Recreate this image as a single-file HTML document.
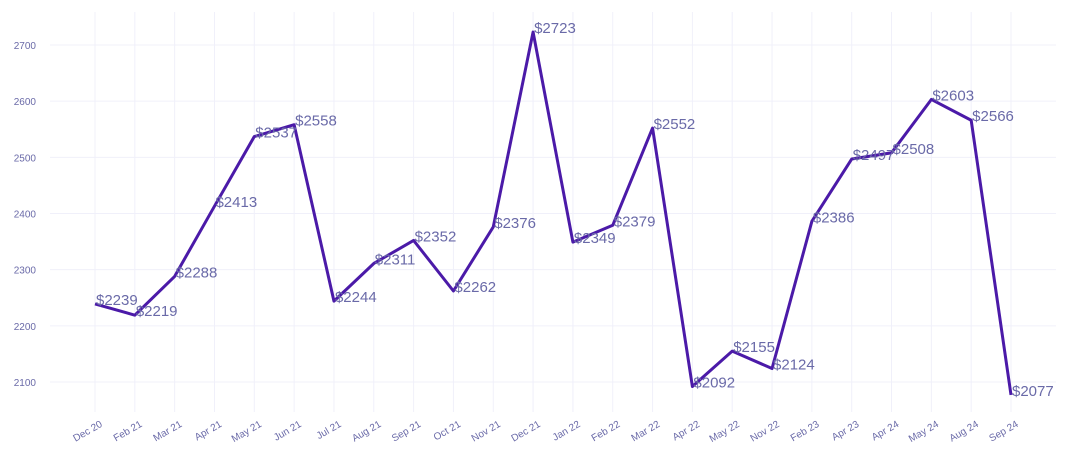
<!DOCTYPE html>
<html><head><meta charset="utf-8"><style>
html,body{margin:0;padding:0;background:#fff;}
svg text{font-family:"Liberation Sans",sans-serif;}
</style></head><body>
<svg id="chart" width="1070" height="465" xmlns="http://www.w3.org/2000/svg">
<g id="grid"></g>
<g id="yaxis"></g>
<g id="xaxis"></g>
<g id="series"></g>
</svg>
<script>
const categories=["Dec 20","Feb 21","Mar 21","Apr 21","May 21","Jun 21","Jul 21","Aug 21","Sep 21","Oct 21","Nov 21","Dec 21","Jan 22","Feb 22","Mar 22","Apr 22","May 22","Nov 22","Feb 23","Apr 23","Apr 24","May 24","Aug 24","Sep 24"];
const values=[2239,2219,2288,2413,2537,2558,2244,2311,2352,2262,2376,2723,2349,2379,2552,2092,2155,2124,2386,2497,2508,2603,2566,2077];
const yTicks=[2100,2200,2300,2400,2500,2600,2700];
const NS="http://www.w3.org/2000/svg";
const x0=95,x1=1011,yBase=382,yPer=0.5617;
function xs(i){return x0+i*(x1-x0)/(categories.length-1);}
function ys(v){return yBase-(v-2100)*yPer;}
function mk(t,a,p){const e=document.createElementNS(NS,t);for(const k in a)e.setAttribute(k,a[k]);p.appendChild(e);return e;}
const grid=document.getElementById('grid'),ya=document.getElementById('yaxis'),xa=document.getElementById('xaxis'),se=document.getElementById('series');
yTicks.forEach(v=>{
  const l=mk('line',{x1:50,x2:1056,y1:ys(v),y2:ys(v),stroke:'#f0f0fa','stroke-width':1},grid);
  
  
  const t=mk('text',{x:36,y:ys(v)+4,'text-anchor':'end','font-size':10,fill:'#6a6aa8'},ya);
  t.textContent=v;
  
  
});
categories.forEach((c,i)=>{
  const l=mk('line',{x1:xs(i),x2:xs(i),y1:12,y2:412,stroke:'#f0f0fa','stroke-width':1},grid);
  
  
  const t=mk('text',{x:xs(i)+8,y:426,'text-anchor':'end','font-size':10,fill:'#6a6aa8',transform:'rotate(-30 '+(xs(i)+8)+' 426)'},xa);
  t.textContent=c;
  
  
});
const p=mk('polyline',{points:values.map((v,i)=>xs(i)+','+ys(v)).join(' '),fill:'none',stroke:'#4b1aa8','stroke-width':3,'stroke-linejoin':'round'},se);


values.forEach((v,i)=>{
  const t=mk('text',{x:xs(i)+1,y:ys(v)+1,'font-size':15,fill:'#6a6aa8'},se);
  t.textContent='$'+v;
  
  
});
</script>
</body></html>
